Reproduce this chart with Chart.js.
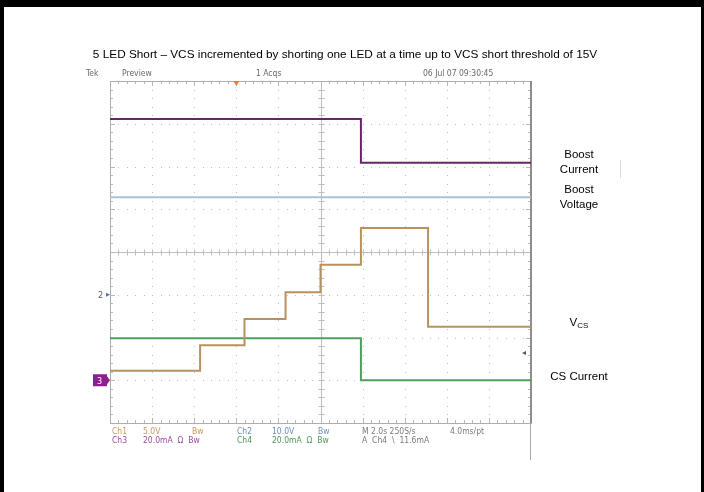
<!DOCTYPE html>
<html><head><meta charset="utf-8">
<script src="https://cdn.jsdelivr.net/npm/chart.js@4.4.1/dist/chart.umd.min.js"></script>
<style>html,body{margin:0;padding:0;background:#fff}canvas{display:block}</style>
</head><body>
<canvas id="scope" width="704" height="492"></canvas>
<script>
// Sweep time in seconds (2 s/div over 10 divisions); trace levels in screen divisions (0..8)
const boostCurrentTime = [0, 11.92, 20];
const boostCurrentDiv  = [7.11, 6.09, 6.09];
const boostVoltageTime = [0, 20];
const boostVoltageDiv  = [5.28, 5.28];
const vcsTime = [0, 4.28, 6.39, 8.34, 10.0, 11.92, 15.11, 20];
const vcsDiv  = [1.22, 1.82, 2.43, 3.06, 3.70, 4.56, 2.25, 2.25];
const csCurrentTime = [0, 11.92, 20];
const csCurrentDiv  = [1.98, 1.0, 1.0];

// Channel reference markers (divisions) and trigger settings
const ch2GroundDiv = 3.0;
const ch3GroundDiv = 1.0;
const triggerLevelDiv = 1.64;
const triggerTimeSec = 6.0;

const traceLabels = ['Boost Current', 'Boost Voltage', 'VCS', 'CS Current'];
const traceColors = ['#6a2468', '#a9c3d3', '#b8915f', '#4f9f5e'];

const titleText = '5 LED Short \u2013 VCS incremented by shorting one LED at a time up to VCS short threshold of 15V';

function pts(t, v) { return t.map((x, i) => ({ x: x, y: v[i] })); }

const NARROW = '"Liberation Sans Narrow", "DejaVu Sans Condensed", "Liberation Sans", sans-serif';
const SANS = '"Liberation Sans", Arial, sans-serif';

const scopeDecor = {
  id: 'scopeDecor',
  beforeDraw(chart) {
    const ctx = chart.ctx;
    ctx.save();
    ctx.fillStyle = '#ffffff';
    ctx.fillRect(0, 0, chart.width, chart.height);
    ctx.fillStyle = '#000000';
    ctx.fillRect(0, 0, chart.width, 7);
    ctx.fillRect(0, 0, 4, chart.height);
    ctx.fillRect(chart.width - 3, 0, 3, chart.height);
    // faint stray mark beside the labels
    ctx.fillStyle = '#dddddd';
    ctx.fillRect(620, 160, 1, 18);
    ctx.restore();
  },
  beforeDatasetsDraw(chart) {
    const ctx = chart.ctx, xs = chart.scales.x, ys = chart.scales.y;
    const a = chart.chartArea;
    ctx.save();
    // dotted division lines
    ctx.fillStyle = '#bdbdbd';
    for (let i = 1; i < 10; i++) {
      if (i === 5) continue;
      const x = Math.round(xs.getPixelForValue(i * 2));
      for (let j = 0; j <= 40; j++) {
        const y = Math.round(ys.getPixelForValue(j / 5));
        ctx.fillRect(x, y, 1, 1);
      }
    }
    for (let k = 1; k < 8; k++) {
      if (k === 4) continue;
      const y = Math.round(ys.getPixelForValue(k));
      for (let j = 0; j <= 50; j++) {
        const x = Math.round(xs.getPixelForValue(j * 0.4));
        ctx.fillRect(x, y, 1, 1);
      }
    }
    // center cross with minor ticks
    const cx = Math.round(xs.getPixelForValue(10)) + 0.5;
    const cy = Math.round(ys.getPixelForValue(4)) + 0.5;
    ctx.strokeStyle = '#bdbdbd';
    ctx.lineWidth = 1;
    ctx.beginPath();
    ctx.moveTo(cx, a.top); ctx.lineTo(cx, a.bottom);
    ctx.moveTo(a.left, cy); ctx.lineTo(a.right, cy);
    for (let j = 1; j < 50; j++) {
      const x = Math.round(xs.getPixelForValue(j * 0.4)) + 0.5;
      ctx.moveTo(x, cy - 3); ctx.lineTo(x, cy + 3);
    }
    for (let j = 1; j < 40; j++) {
      const y = Math.round(ys.getPixelForValue(j / 5)) + 0.5;
      ctx.moveTo(cx - 3, y); ctx.lineTo(cx + 3, y);
    }
    ctx.stroke();
    // border ticks
    ctx.strokeStyle = '#b8b8b8';
    ctx.beginPath();
    for (let j = 1; j < 50; j++) {
      const x = Math.round(xs.getPixelForValue(j * 0.4)) + 0.5;
      const len = j % 5 === 0 ? 5 : 3;
      ctx.moveTo(x, a.top); ctx.lineTo(x, a.top + len);
      ctx.moveTo(x, a.bottom); ctx.lineTo(x, a.bottom - len);
    }
    for (let j = 1; j < 40; j++) {
      const y = Math.round(ys.getPixelForValue(j / 5)) + 0.5;
      const len = j % 5 === 0 ? 5 : 3;
      ctx.moveTo(a.left, y); ctx.lineTo(a.left + len, y);
      ctx.moveTo(a.right, y); ctx.lineTo(a.right - len, y);
    }
    ctx.stroke();
    // border
    ctx.strokeStyle = '#adadad';
    ctx.strokeRect(Math.round(a.left) + 0.5, Math.round(a.top) + 0.5,
                   Math.round(a.right - a.left), Math.round(a.bottom - a.top));
    ctx.fillStyle = '#8c8c8c';
    ctx.fillRect(Math.round(a.right) - 1, Math.round(a.top), 2, Math.round(a.bottom - a.top));
    ctx.fillStyle = '#a8a8a8';
    ctx.fillRect(Math.round(a.right) - 1, Math.round(a.bottom), 1, 37);
    ctx.restore();
  },
  afterDraw(chart) {
    const ctx = chart.ctx, xs = chart.scales.x, ys = chart.scales.y;
    const a = chart.chartArea;
    ctx.save();
    ctx.textBaseline = 'middle';

    // title
    ctx.fillStyle = '#000';
    ctx.font = '11.8px ' + SANS;
    ctx.textAlign = 'center';
    ctx.fillText(titleText, 345, 55);

    // scope header
    ctx.textAlign = 'left';
    ctx.font = '8.5px ' + NARROW;
    ctx.fillStyle = '#6a6a6a';
    ctx.fillText('Tek', 86, 74);
    ctx.fillText('Preview', 122, 74);
    ctx.fillText('1 Acqs', 256, 74);
    ctx.fillText('06 Jul 07 09:30:45', 423, 74);

    // trigger position marker
    const tx = xs.getPixelForValue(triggerTimeSec);
    ctx.fillStyle = '#e0823a';
    ctx.beginPath();
    ctx.moveTo(tx - 3, a.top); ctx.lineTo(tx + 3, a.top); ctx.lineTo(tx, a.top + 5);
    ctx.closePath(); ctx.fill();

    // channel 2 ground marker
    const y2 = ys.getPixelForValue(ch2GroundDiv);
    ctx.fillStyle = '#5a5a5a';
    ctx.font = '9px ' + NARROW;
    ctx.fillText('2', 98, y2 + 1);
    ctx.fillStyle = '#4a78b8';
    ctx.beginPath();
    ctx.moveTo(a.left - 4, y2 - 2); ctx.lineTo(a.left, y2); ctx.lineTo(a.left - 4, y2 + 2);
    ctx.closePath(); ctx.fill();

    // channel 3 ground marker
    const y3 = ys.getPixelForValue(ch3GroundDiv);
    ctx.fillStyle = '#8e1f8e';
    ctx.fillRect(93, y3 - 6, 14, 12);
    ctx.beginPath();
    ctx.moveTo(107, y3 - 4); ctx.lineTo(110, y3); ctx.lineTo(107, y3 + 4);
    ctx.closePath(); ctx.fill();
    ctx.fillStyle = '#fff';
    ctx.font = '9px ' + NARROW;
    ctx.fillText('3', 97, y3 + 1);

    // trigger level marker
    const yt = ys.getPixelForValue(triggerLevelDiv);
    ctx.fillStyle = '#555';
    ctx.beginPath();
    ctx.moveTo(a.right - 9, yt); ctx.lineTo(a.right - 5, yt - 2); ctx.lineTo(a.right - 5, yt + 2);
    ctx.closePath(); ctx.fill();

    // readout rows
    ctx.font = '8.5px ' + NARROW;
    const row1 = 432, row2 = 441;
    ctx.fillStyle = '#c39a55';
    ctx.fillText('Ch1', 112, row1); ctx.fillText('5.0V', 143, row1); ctx.fillText('Bw', 192, row1);
    ctx.fillStyle = '#6d8fb8';
    ctx.fillText('Ch2', 237, row1); ctx.fillText('10.0V', 272, row1); ctx.fillText('Bw', 318, row1);
    ctx.fillStyle = '#7a7a7a';
    ctx.fillText('M 2.0s 250S/s', 362, row1); ctx.fillText('4.0ms/pt', 450, row1);
    ctx.fillStyle = '#a04aa0';
    ctx.fillText('Ch3', 112, row2); ctx.fillText('20.0mA  \u03A9  Bw', 143, row2);
    ctx.fillStyle = '#4a9a58';
    ctx.fillText('Ch4', 237, row2); ctx.fillText('20.0mA  \u03A9  Bw', 272, row2);
    ctx.fillStyle = '#7a7a7a';
    ctx.fillText('A  Ch4  \\  11.6mA', 362, row2);

    // trace labels
    ctx.fillStyle = '#000';
    ctx.font = '11.5px ' + SANS;
    ctx.textAlign = 'center';
    ctx.fillText('Boost', 579, 155);
    ctx.fillText('Current', 579, 170);
    ctx.fillText('Boost', 579, 190);
    ctx.fillText('Voltage', 579, 205);
    ctx.fillText('CS Current', 579, 377);
    // V with CS subscript
    ctx.textAlign = 'left';
    const wV = ctx.measureText('V').width;
    ctx.font = '8px ' + SANS;
    const wS = ctx.measureText('CS').width;
    const sx = 579 - (wV + wS) / 2;
    ctx.font = '11.5px ' + SANS;
    ctx.fillText('V', sx, 323);
    ctx.font = '8px ' + SANS;
    ctx.fillText('CS', sx + wV, 326);
    ctx.restore();
  }
};

new Chart(document.getElementById('scope'), {
  type: 'line',
  data: {
    datasets: [
      { label: traceLabels[0], data: pts(boostCurrentTime, boostCurrentDiv), borderColor: traceColors[0] },
      { label: traceLabels[1], data: pts(boostVoltageTime, boostVoltageDiv), borderColor: traceColors[1] },
      { label: traceLabels[2], data: pts(vcsTime, vcsDiv), borderColor: traceColors[2] },
      { label: traceLabels[3], data: pts(csCurrentTime, csCurrentDiv), borderColor: traceColors[3] }
    ]
  },
  options: {
    responsive: false,
    devicePixelRatio: 1,
    animation: false,
    layout: { padding: { left: 110, top: 81, right: 173, bottom: 69 } },
    elements: {
      line: { stepped: true, borderWidth: 2, tension: 0, fill: false },
      point: { radius: 0, hoverRadius: 0 }
    },
    scales: {
      x: { type: 'linear', min: 0, max: 20, display: false },
      y: { type: 'linear', min: 0, max: 8, display: false }
    },
    plugins: { legend: { display: false }, title: { display: false }, tooltip: { enabled: false } }
  },
  plugins: [scopeDecor]
});
</script>
</body></html>
